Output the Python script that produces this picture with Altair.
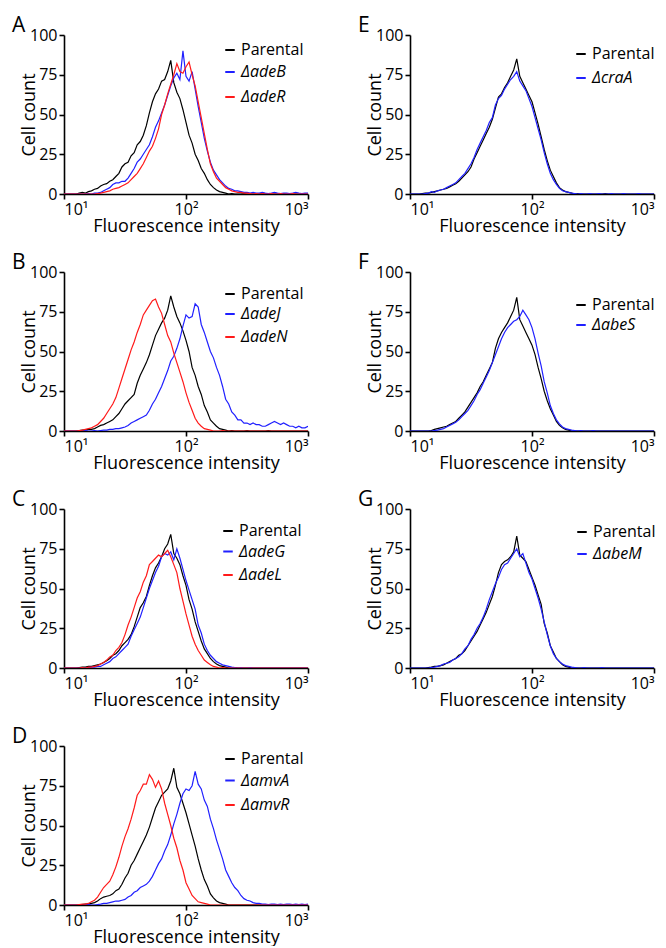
import altair as alt
import pandas as pd

# Channel grid: log10 of fluorescence intensity, 10^1 .. 10^3 in 0.025 steps
log_intensity = [round(1 + i * 0.025, 3) for i in range(81)]

# ---- Panel A ----
A_parental = [0, 0, 0, 0, 0, 0.5, 1, 0.5, 1.5, 2, 3, 3.5, 5, 6, 6.5, 8, 9, 11, 13, 17,
              19, 20, 24, 26, 31, 33, 37, 43, 51, 58, 63, 66, 71, 72, 77, 84, 70, 64, 60, 53,
              45, 37, 32, 25, 21, 16, 13, 9, 6, 4, 2.5, 1.5, 1, 0.5, 0, 0.3, 0, 0, 0, 0.3,
              0, 0, 0, 0, 0, 0.3, 0, 0, 0, 0, 0, 0, 0.3, 0, 0, 0, 0, 0, 0, 0, 0]
A_adeB = [0, 0, 0, 0, 0, 0, 0, 0, 0.3, 0, 0.5, 0.5, 1, 2, 3, 4, 6, 7, 7, 8,
          8, 10, 13, 16, 20, 22, 25, 28, 31, 36, 42, 46, 51, 56, 62, 68, 73, 76, 72, 90,
          74, 71, 77, 66, 55, 45, 35, 27, 20, 15, 12, 9, 7, 5, 3.5, 3, 2, 2, 1.5, 1,
          1, 0.5, 1, 0.5, 0.5, 1, 0.5, 0.3, 0.5, 1, 0.5, 0.3, 0.5, 0.5, 0.3, 0.5, 1, 0.5, 0.3, 0.5, 0.5]
A_adeR = [0, 0, 0, 0, 0, 0, 0, 0, 0, 0, 0, 0.3, 0.5, 1, 1.5, 2, 3, 3.5, 4, 5,
          6, 7, 9, 11, 13, 16, 19, 23, 27, 30, 35, 41, 50, 56, 63, 69, 75, 82, 77, 76,
          80, 83, 75, 68, 58, 48, 38, 28, 19, 14, 10, 8, 6, 4, 3, 2, 1.5, 1, 1, 0.5,
          0.5, 0.3, 0, 0.3, 0, 0.3, 0, 0, 0.3, 0, 0, 0.3, 0, 0, 0, 0.3, 0, 0, 0, 0, 0]

# ---- Panel B ----
B_parental = [0, 0, 0, 0, 0, 0.3, 0.5, 0.5, 1, 1, 1.5, 2.5, 3.5, 4, 5, 6, 7, 9, 11, 14,
              17, 19, 21, 23, 30, 35, 39, 43, 48, 54, 60, 64, 68, 71, 76, 85, 78, 72, 68, 63,
              57, 50, 40, 35, 28, 23, 16, 12, 7, 5, 3, 1.5, 1, 0.5, 0, 0.3, 0, 0, 0, 0,
              0.3, 0, 0, 0, 0, 0, 0, 0.3, 0, 0, 0, 0, 0, 0, 0, 0, 0, 0, 0, 0, 0]
B_adeJ = [0, 0, 0, 0, 0, 0, 0, 0.3, 0, 0, 0.3, 0, 0.3, 0.5, 0.5, 1, 1, 1.5, 1.5, 2,
          2.5, 3.5, 5, 6, 7, 8, 9, 10, 13, 17, 20, 24, 28, 33, 38, 44, 47, 52, 58, 66,
          73, 71, 72, 80, 78, 67, 62, 56, 50, 46, 40, 35, 28, 20, 17, 12, 10, 7, 7, 5,
          5, 4, 5, 4, 4, 3, 3, 4, 5, 6, 5, 4, 5, 4, 3, 3, 2, 3, 2, 2, 3]
B_adeN = [0, 0, 0, 0, 0, 0.3, 0.5, 1, 1.5, 2, 3, 4, 6, 8, 11, 14, 17, 21, 27, 33,
          39, 45, 51, 56, 62, 67, 73, 76, 79, 82, 83, 78, 74, 67, 60, 56, 49, 43, 37, 31,
          24, 18, 13, 8, 5, 3, 1.5, 1, 0.5, 0, 0, 0, 0.3, 0, 0, 0, 0, 0, 0, 0,
          0, 0, 0, 0, 0, 0, 0, 0, 0, 0, 0, 0, 0, 0, 0, 0, 0, 0, 0, 0, 0]

# ---- Panel C ----
C_parental = [0, 0, 0, 0, 0, 0.3, 0.5, 0.5, 1, 1, 1.5, 2, 2.5, 3.5, 4.5, 6, 8, 9, 11, 14,
              16, 18, 21, 26, 32, 38, 41, 45, 52, 58, 63, 66, 70, 75, 78, 84, 72, 69, 65, 58,
              52, 43, 37, 29, 23, 17, 12, 9, 6, 4, 2.5, 1.5, 1, 0.5, 0, 0, 0.3, 0, 0, 0,
              0, 0, 0, 0, 0, 0, 0, 0, 0, 0, 0, 0, 0, 0, 0, 0, 0, 0, 0, 0, 0]
C_adeG = [0, 0, 0, 0, 0, 0, 0, 0, 0.3, 0.5, 0.5, 1, 1, 2, 3, 4, 6, 7, 9, 11,
          13, 15, 20, 24, 28, 32, 38, 44, 50, 55, 60, 64, 70, 72, 71, 73, 68, 75, 69, 62,
          55, 49, 43, 37, 27, 22, 15, 11, 8, 6, 4, 3, 2, 1.5, 1, 0.5, 0.3, 0, 0.3, 0,
          0, 0.3, 0, 0, 0, 0, 0, 0, 0, 0, 0, 0, 0, 0, 0, 0, 0, 0, 0, 0, 0]
C_adeL = [0, 0, 0, 0, 0, 0, 0.3, 0, 0.5, 0.5, 1, 1.5, 2.5, 3.5, 5, 7, 8, 11, 13, 16,
          21, 27, 32, 38, 44, 48, 54, 58, 65, 67, 69, 71, 70, 72, 74, 70, 65, 60, 50, 42,
          34, 27, 20, 15, 11, 8, 5, 3.5, 2, 1, 0.5, 0, 0.3, 0, 0, 0, 0, 0, 0, 0,
          0, 0, 0, 0, 0, 0, 0, 0, 0, 0, 0, 0, 0, 0, 0, 0, 0, 0, 0, 0, 0]

# ---- Panel D ----
D_parental = [0, 0, 0, 0, 0, 0, 0.3, 0.5, 0.5, 1, 1.5, 2.5, 4, 5, 5.5, 6, 7, 9, 10, 13,
              17, 20, 25, 28, 32, 36, 40, 44, 49, 55, 61, 65, 69, 71, 73, 78, 86, 74, 70, 64,
              58, 51, 44, 37, 29, 22, 16, 12, 7, 4.5, 2.5, 1.5, 1, 0.5, 0, 0, 0, 0, 0, 0,
              0, 0, 0, 0, 0, 0, 0, 0, 0, 0, 0, 0, 0, 0, 0, 0, 0, 0, 0, 0, 0]
D_amvA = [0, 0, 0, 0, 0, 0, 0, 0, 0.3, 0, 0, 0.3, 0.5, 1, 1, 1.5, 2, 2.5, 2.5, 3,
          3.5, 5, 6, 8, 9, 11, 12, 13, 15, 18, 22, 26, 29, 34, 38, 44, 51, 57, 64, 70,
          73, 72, 75, 84, 76, 73, 66, 62, 54, 48, 41, 35, 29, 22, 18, 14, 11, 9, 6, 4,
          3, 2.5, 1.5, 1, 1, 0.5, 0.5, 0.3, 0.5, 0.5, 0.3, 0.5, 0.3, 0.5, 0.5, 0.3, 0.5, 0.3, 0.5, 0.3, 0.5]
D_amvR = [0, 0, 0, 0, 0, 0.3, 0.5, 0.5, 1, 2, 3, 5, 8, 11, 13, 15, 19, 24, 30, 37,
          43, 48, 54, 61, 69, 72, 76, 76, 82, 79, 74, 78, 73, 64, 57, 50, 42, 36, 28, 22,
          14, 10, 6, 4, 2, 1.5, 1, 0.5, 0, 0, 0, 0, 0, 0, 0, 0, 0, 0, 0, 0,
          0, 0, 0, 0, 0, 0, 0, 0, 0, 0, 0, 0, 0, 0, 0, 0, 0, 0, 0, 0, 0]

# ---- Panel E ----
E_parental = [0, 0, 0, 0, 0.3, 0.5, 0.5, 1, 1.5, 2, 2.5, 3, 3.5, 4.5, 5.5, 6.5, 8, 10, 12, 14,
              17, 22, 26, 30, 34, 38, 42, 47, 54, 61, 63, 67, 70, 74, 78, 85, 74, 70, 66, 62,
              58, 51, 44, 36, 28, 21, 15, 11, 7, 4, 2.5, 1.5, 1, 0.5, 0, 0.3, 0, 0, 0, 0,
              0, 0, 0, 0, 0.3, 0, 0, 0, 0, 0, 0, 0, 0, 0, 0, 0, 0, 0, 0, 0, 0]
E_craA = [0, 0, 0, 0, 0, 0.3, 0.5, 1.5, 1, 2, 2.5, 3, 4, 5, 6, 7, 9, 11, 13, 16,
          19, 23, 28, 32, 36, 40, 45, 48, 56, 60, 62, 66, 69, 72, 74, 77, 71, 68, 65, 60,
          55, 48, 41, 34, 26, 19, 13, 9, 6, 3.5, 2, 1.5, 1, 0.5, 0.3, 0, 0.3, 0, 0, 0.3,
          0, 0, 0.3, 0, 0, 0, 0.3, 0, 0, 0, 0.3, 0, 0, 0, 0, 0.3, 0, 0, 0, 0, 0]

# ---- Panel F ----
F_parental = [0, 0, 0, 0, 0, 0, 0, 0.3, 1, 1.5, 2, 2.5, 3, 4, 5, 6, 8, 10, 12, 15,
              18, 21, 24, 28, 31, 35, 39, 43, 52, 58, 62, 65, 68, 72, 76, 84, 70, 66, 62, 58,
              54, 48, 40, 33, 25, 19, 14, 10, 6, 3.5, 2, 1, 0.5, 0, 0, 0, 0, 0, 0, 0,
              0, 0, 0, 0, 0, 0, 0, 0, 0, 0, 0, 0, 0, 0, 0, 0, 0, 0, 0, 0, 0]
F_abeS = [0, 0, 0, 0, 0, 0, 0, 0, 0.3, 0.5, 1, 1.5, 2.5, 3.5, 4.5, 5.5, 7, 9, 11, 13,
          16, 19, 23, 26, 30, 34, 38, 43, 48, 53, 58, 62, 65, 67, 69, 70, 72, 76, 73, 70,
          65, 58, 49, 41, 31, 24, 16, 11, 7, 4.5, 2.5, 1.5, 1, 0.5, 0.3, 0, 0.3, 0, 0, 0,
          0.3, 0, 0, 0, 0, 0, 0, 0, 0, 0, 0, 0, 0, 0, 0, 0, 0, 0, 0, 0, 0]

# ---- Panel G ----
G_parental = [0, 0, 0, 0, 0, 0, 0.3, 0.5, 1, 1, 1.5, 2, 3, 4, 5, 6, 8, 9, 11, 14,
              17, 20, 23, 27, 31, 35, 40, 45, 52, 60, 65, 67, 68, 70, 73, 83, 71, 69, 67, 62,
              57, 52, 46, 40, 28, 22, 14, 10, 6, 4, 2, 1, 0.5, 0, 0, 0, 0, 0, 0, 0,
              0, 0, 0, 0, 0, 0, 0, 0, 0, 0, 0, 0, 0, 0, 0, 0, 0, 0, 0, 0, 0]
G_abeM = [0, 0, 0, 0, 0, 0, 0, 0.3, 0.5, 1, 1.5, 2.5, 3, 3.5, 5, 6, 7, 9, 12, 14,
          18, 21, 25, 28, 32, 37, 43, 48, 53, 57, 62, 65, 66, 69, 72, 75, 70, 72, 66, 60,
          56, 50, 44, 37, 29, 21, 14, 9, 6, 4, 2.5, 1.5, 1, 0.5, 0.3, 0, 0, 0.3, 0, 0,
          0, 0, 0, 0.3, 0, 0, 0, 0, 0, 0, 0, 0, 0, 0, 0, 0, 0, 0, 0, 0, 0]

PANELS = {
    "A": (A_parental, [("ΔadeB", A_adeB), ("ΔadeR", A_adeR)]),
    "B": (B_parental, [("ΔadeJ", B_adeJ), ("ΔadeN", B_adeN)]),
    "C": (C_parental, [("ΔadeG", C_adeG), ("ΔadeL", C_adeL)]),
    "D": (D_parental, [("ΔamvA", D_amvA), ("ΔamvR", D_amvR)]),
    "E": (E_parental, [("ΔcraA", E_craA)]),
    "F": (F_parental, [("ΔabeS", F_abeS)]),
    "G": (G_parental, [("ΔabeM", G_abeM)]),
}
MUTANT_COLORS = ["#2020ff", "#ff1a1a"]
# legend placement inside each plot area: x, y of first entry, row step
LEGEND_POS = {"A": (158, 7, 22), "B": (158, 14, 20), "C": (156, 14, 20.5),
              "D": (158, 5, 21.5), "E": (163, 11, 24), "F": (163, 25, 20),
              "G": (164, 15, 22)}
ENTRY_H = 13

FONT = "Open Sans"
W, H = 244, 159


def leg(x, y, style, row_pad):
    return alt.Legend(title=None, orient="none", legendX=x, legendY=y,
                      symbolType="stroke", symbolSize=90, symbolStrokeWidth=2,
                      labelFont=FONT, labelFontSize=16, labelColor="black",
                      labelFontStyle=style, labelOffset=3, rowPadding=row_pad, padding=0)


def panel(letter):
    parental, mutants = PANELS[letter]
    lx, ly, step = LEGEND_POS[letter]
    df_p = pd.DataFrame({"intensity": [10 ** v for v in log_intensity],
                         "count": parental, "series": "Parental"})
    rows = []
    for name, vals in mutants:
        for lv, v in zip(log_intensity, vals):
            rows.append({"intensity": 10 ** lv, "count": v, "series": name})
    df_m = pd.DataFrame(rows)
    names = [m[0] for m in mutants]

    x = alt.X("intensity:Q", scale=alt.Scale(type="log", domain=[10, 1000]),
              axis=alt.Axis(values=[10, 100, 1000], title="Fluorescence intensity",
                            labelExpr="datum.value == 10 ? '10¹' : (datum.value == 100 ? '10²' : '10³')"))
    y = alt.Y("count:Q", scale=alt.Scale(domain=[0, 100]),
              axis=alt.Axis(values=[0, 25, 50, 75, 100], title="Cell count"))

    par = alt.Chart(df_p).mark_line(strokeWidth=1.2, clip=True).encode(
        x=x, y=y,
        color=alt.Color("series:N", scale=alt.Scale(domain=["Parental"], range=["#000000"]),
                        legend=leg(lx, ly, "normal", 0)))
    mut = alt.Chart(df_m).mark_line(strokeWidth=1.2, clip=True).encode(
        x=x, y=y,
        stroke=alt.Stroke("series:N", sort=names,
                          scale=alt.Scale(domain=names, range=MUTANT_COLORS[:len(names)]),
                          legend=leg(lx, ly + step, "italic", step - ENTRY_H)))
    return alt.layer(par, mut).properties(
        width=W, height=H,
        title=alt.TitleParams(letter, anchor="start", frame="group", dx=-52, dy=26,
                              fontSize=21, font=FONT, fontWeight="normal", color="black",
                              offset=0, baseline="alphabetic"),
    )


p = {k: panel(k) for k in PANELS}
chart = alt.concat(p["A"], p["E"], p["B"], p["F"], p["C"], p["G"], p["D"],
                   columns=2, spacing={"row": 78, "column": 102}, bounds="flush"
                   ).resolve_scale(color="independent", stroke="independent"
                   ).resolve_legend(color="independent", stroke="independent"
                   ).properties(padding={"left": 4, "top": 7, "right": 0, "bottom": 0}
                   ).configure_view(stroke=None).configure_axis(
    grid=False, domainColor="black", domainWidth=1.6, tickColor="black",
    tickWidth=1.6, tickSize=5, labelFont=FONT, labelFontSize=16,
    labelColor="black", labelPadding=2, titleFont=FONT, titleFontSize=18,
    titleColor="black", titleFontWeight="normal",
).configure_axisY(titlePadding=-9).configure_axisX(titlePadding=0)

chart.save("out.html", embed_options={"renderer": "svg", "actions": False})
